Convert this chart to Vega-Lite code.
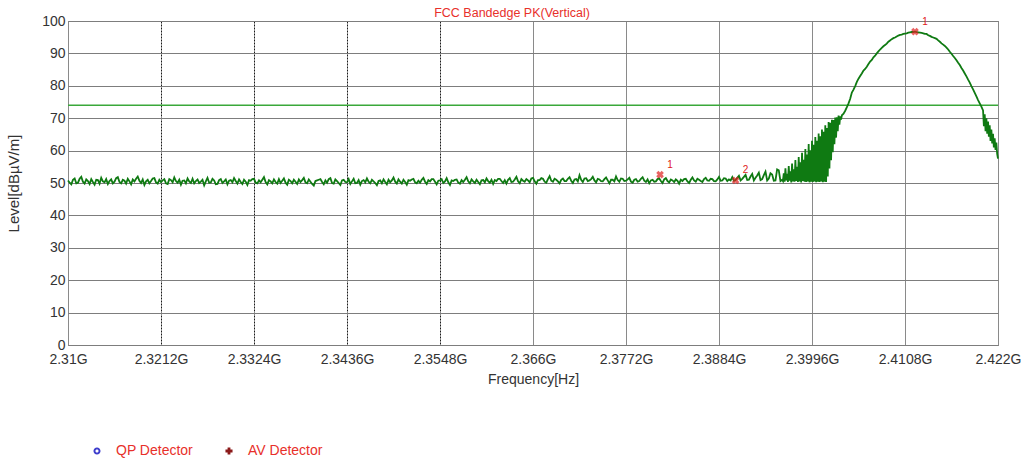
{
 "$schema": "https://vega.github.io/schema/vega-lite/v6.json",
 "width": 930,
 "height": 324,
 "autosize": {"type": "none"},
 "padding": {"left": 68, "top": 21, "right": 24, "bottom": 118},
 "background": "white",
 "config": {
  "view": {"stroke": "#6e6e6e", "strokeWidth": 1},
  "font": "Liberation Sans, Arial, sans-serif"
 },
 "title": {"text": "FCC Bandedge PK(Vertical)", "color": "#e8302a", "fontSize": 12.5, "fontWeight": "normal", "frame": "group", "offset": -5, "dx": -21},
 "datasets": {
  "trace": [
   {"f":2.31,"v":50.8},{"f":2.3102,"v":50.1},{"f":2.3104,"v":49.6},{"f":2.3106,"v":51.0},{"f":2.3108,"v":51.4},{"f":2.311,"v":49.9},{"f":2.3112,"v":50.1},{"f":2.3114,"v":51.3},{"f":2.3116,"v":51.9},{"f":2.3118,"v":50.4},{"f":2.312,"v":49.8},{"f":2.3122,"v":51.1},{"f":2.3124,"v":50.6},{"f":2.3126,"v":49.7},{"f":2.3128,"v":51.2},{"f":2.313,"v":50.3},{"f":2.3132,"v":49.5},{"f":2.3134,"v":51.0},{"f":2.3136,"v":50.9},{"f":2.3138,"v":49.8},
   {"f":2.314,"v":51.6},{"f":2.3142,"v":50.5},{"f":2.3144,"v":50.2},{"f":2.3146,"v":51.2},{"f":2.3148,"v":49.7},{"f":2.315,"v":50.6},{"f":2.3152,"v":51.1},{"f":2.3154,"v":49.9},{"f":2.3156,"v":50.4},{"f":2.3158,"v":51.5},{"f":2.316,"v":51.8},{"f":2.3162,"v":50.3},{"f":2.3164,"v":49.9},{"f":2.3166,"v":51.0},{"f":2.3168,"v":50.7},{"f":2.317,"v":49.8},{"f":2.3172,"v":51.3},{"f":2.3174,"v":50.5},{"f":2.3176,"v":49.6},{"f":2.3178,"v":51.1},
   {"f":2.318,"v":50.5},{"f":2.3182,"v":51.3},{"f":2.3184,"v":52.0},{"f":2.3186,"v":50.7},{"f":2.3188,"v":50.0},{"f":2.319,"v":51.1},{"f":2.3192,"v":49.4},{"f":2.3194,"v":50.5},{"f":2.3196,"v":51.0},{"f":2.3198,"v":49.9},{"f":2.32,"v":50.6},{"f":2.3202,"v":51.4},{"f":2.3204,"v":51.5},{"f":2.3206,"v":50.2},{"f":2.3208,"v":49.8},{"f":2.321,"v":51.0},{"f":2.3212,"v":50.3},{"f":2.3214,"v":50.8},{"f":2.3216,"v":51.2},{"f":2.3218,"v":49.9},
   {"f":2.322,"v":49.7},{"f":2.3222,"v":51.2},{"f":2.3224,"v":50.9},{"f":2.3226,"v":50.2},{"f":2.3228,"v":51.7},{"f":2.323,"v":50.6},{"f":2.3232,"v":50.1},{"f":2.3234,"v":51.0},{"f":2.3236,"v":49.5},{"f":2.3238,"v":50.7},{"f":2.324,"v":50.8},{"f":2.3242,"v":49.9},{"f":2.3244,"v":51.4},{"f":2.3246,"v":50.5},{"f":2.3248,"v":50.0},{"f":2.325,"v":51.3},{"f":2.3252,"v":49.9},{"f":2.3254,"v":50.6},{"f":2.3256,"v":51.1},{"f":2.3258,"v":50.0},
   {"f":2.326,"v":50.4},{"f":2.3262,"v":51.0},{"f":2.3264,"v":49.3},{"f":2.3266,"v":50.5},{"f":2.3268,"v":51.6},{"f":2.327,"v":50.1},{"f":2.3272,"v":50.2},{"f":2.3274,"v":51.3},{"f":2.3276,"v":50.8},{"f":2.3278,"v":49.6},{"f":2.328,"v":49.7},{"f":2.3282,"v":50.9},{"f":2.3284,"v":51.2},{"f":2.3286,"v":50.0},{"f":2.3288,"v":50.5},{"f":2.329,"v":51.1},{"f":2.3292,"v":49.6},{"f":2.3294,"v":50.7},{"f":2.3296,"v":50.9},{"f":2.3298,"v":50.2},
   {"f":2.33,"v":51.5},{"f":2.3302,"v":50.6},{"f":2.3304,"v":49.8},{"f":2.3306,"v":51.1},{"f":2.3308,"v":50.3},{"f":2.331,"v":49.7},{"f":2.3312,"v":51.0},{"f":2.3314,"v":50.4},{"f":2.3316,"v":49.4},{"f":2.3318,"v":50.9},{"f":2.332,"v":50.7},{"f":2.3322,"v":51.2},{"f":2.3324,"v":51.3},{"f":2.3326,"v":50.1},{"f":2.3328,"v":49.9},{"f":2.333,"v":50.8},{"f":2.3332,"v":50.2},{"f":2.3334,"v":51.0},{"f":2.3336,"v":51.8},{"f":2.3338,"v":50.3},
   {"f":2.334,"v":49.6},{"f":2.3342,"v":50.9},{"f":2.3344,"v":50.5},{"f":2.3346,"v":49.9},{"f":2.3348,"v":51.1},{"f":2.335,"v":50.3},{"f":2.3352,"v":49.8},{"f":2.3354,"v":51.2},{"f":2.3356,"v":50.0},{"f":2.3358,"v":50.7},{"f":2.336,"v":51.4},{"f":2.3362,"v":50.1},{"f":2.3364,"v":49.5},{"f":2.3366,"v":51.0},{"f":2.3368,"v":50.6},{"f":2.337,"v":49.9},{"f":2.3372,"v":51.0},{"f":2.3374,"v":50.4},{"f":2.3376,"v":49.7},{"f":2.3378,"v":51.1},
   {"f":2.338,"v":50.3},{"f":2.3382,"v":50.9},{"f":2.3384,"v":51.6},{"f":2.3386,"v":50.2},{"f":2.3388,"v":49.9},{"f":2.339,"v":51.1},{"f":2.3392,"v":50.4},{"f":2.3394,"v":49.7},{"f":2.3396,"v":49.2},{"f":2.3398,"v":50.6},{"f":2.34,"v":50.8},{"f":2.3402,"v":51.0},{"f":2.3404,"v":51.2},{"f":2.3406,"v":50.3},{"f":2.3408,"v":49.6},{"f":2.341,"v":50.8},{"f":2.3412,"v":50.1},{"f":2.3414,"v":51.2},{"f":2.3416,"v":51.5},{"f":2.3418,"v":50.0},
   {"f":2.342,"v":49.8},{"f":2.3422,"v":51.1},{"f":2.3424,"v":50.6},{"f":2.3426,"v":50.0},{"f":2.3428,"v":49.4},{"f":2.343,"v":50.8},{"f":2.3432,"v":51.0},{"f":2.3434,"v":50.3},{"f":2.3436,"v":50.2},{"f":2.3438,"v":51.2},{"f":2.344,"v":49.7},{"f":2.3442,"v":50.5},{"f":2.3444,"v":51.3},{"f":2.3446,"v":49.9},{"f":2.3448,"v":50.0},{"f":2.345,"v":50.9},{"f":2.3452,"v":49.5},{"f":2.3454,"v":50.6},{"f":2.3456,"v":50.9},{"f":2.3458,"v":50.2},
   {"f":2.346,"v":51.4},{"f":2.3462,"v":50.4},{"f":2.3464,"v":49.9},{"f":2.3466,"v":51.0},{"f":2.3468,"v":50.5},{"f":2.347,"v":50.0},{"f":2.3472,"v":49.3},{"f":2.3474,"v":50.6},{"f":2.3476,"v":50.8},{"f":2.3478,"v":49.9},{"f":2.348,"v":51.1},{"f":2.3482,"v":50.3},{"f":2.3484,"v":49.6},{"f":2.3486,"v":51.0},{"f":2.3488,"v":50.2},{"f":2.349,"v":50.8},{"f":2.3492,"v":51.7},{"f":2.3494,"v":50.4},{"f":2.3496,"v":49.8},{"f":2.3498,"v":51.1},
   {"f":2.35,"v":50.4},{"f":2.3502,"v":49.8},{"f":2.3504,"v":51.0},{"f":2.3506,"v":50.3},{"f":2.3508,"v":49.5},{"f":2.351,"v":50.9},{"f":2.3512,"v":50.7},{"f":2.3514,"v":51.1},{"f":2.3516,"v":51.3},{"f":2.3518,"v":50.2},{"f":2.352,"v":49.9},{"f":2.3522,"v":50.7},{"f":2.3524,"v":50.1},{"f":2.3526,"v":51.0},{"f":2.3528,"v":51.6},{"f":2.353,"v":50.4},{"f":2.3532,"v":49.7},{"f":2.3534,"v":50.9},{"f":2.3536,"v":50.5},{"f":2.3538,"v":51.2},
   {"f":2.354,"v":51.2},{"f":2.3542,"v":50.4},{"f":2.3544,"v":49.6},{"f":2.3546,"v":50.7},{"f":2.3548,"v":50.8},{"f":2.355,"v":51.2},{"f":2.3552,"v":50.0},{"f":2.3554,"v":50.5},{"f":2.3556,"v":51.5},{"f":2.3558,"v":50.2},{"f":2.356,"v":49.4},{"f":2.3562,"v":50.8},{"f":2.3564,"v":50.6},{"f":2.3566,"v":51.0},{"f":2.3568,"v":51.1},{"f":2.357,"v":50.1},{"f":2.3572,"v":49.8},{"f":2.3574,"v":50.9},{"f":2.3576,"v":50.3},{"f":2.3578,"v":51.0},
   {"f":2.358,"v":51.8},{"f":2.3582,"v":50.5},{"f":2.3584,"v":49.9},{"f":2.3586,"v":51.1},{"f":2.3588,"v":50.5},{"f":2.359,"v":50.0},{"f":2.3592,"v":51.0},{"f":2.3594,"v":50.3},{"f":2.3596,"v":49.6},{"f":2.3598,"v":50.8},{"f":2.36,"v":50.9},{"f":2.3602,"v":50.2},{"f":2.3604,"v":51.4},{"f":2.3606,"v":50.6},{"f":2.3608,"v":50.1},{"f":2.361,"v":51.0},{"f":2.3612,"v":49.7},{"f":2.3614,"v":50.9},{"f":2.3616,"v":50.6},{"f":2.3618,"v":51.3},
   {"f":2.362,"v":51.3},{"f":2.3622,"v":50.6},{"f":2.3624,"v":50.0},{"f":2.3626,"v":50.9},{"f":2.3628,"v":49.8},{"f":2.363,"v":51.0},{"f":2.3632,"v":51.5},{"f":2.3634,"v":50.3},{"f":2.3636,"v":50.4},{"f":2.3638,"v":51.1},{"f":2.364,"v":51.9},{"f":2.3642,"v":50.5},{"f":2.3644,"v":49.9},{"f":2.3646,"v":51.2},{"f":2.3648,"v":50.7},{"f":2.365,"v":50.4},{"f":2.3652,"v":51.2},{"f":2.3654,"v":50.8},{"f":2.3656,"v":50.2},{"f":2.3658,"v":51.4},
   {"f":2.366,"v":51.6},{"f":2.3662,"v":50.5},{"f":2.3664,"v":49.8},{"f":2.3666,"v":50.9},{"f":2.3668,"v":50.9},{"f":2.367,"v":51.5},{"f":2.3672,"v":51.3},{"f":2.3674,"v":50.4},{"f":2.3676,"v":50.1},{"f":2.3678,"v":51.2},{"f":2.368,"v":52.1},{"f":2.3682,"v":50.7},{"f":2.3684,"v":50.4},{"f":2.3686,"v":51.3},{"f":2.3688,"v":51.0},{"f":2.369,"v":50.5},{"f":2.3692,"v":49.9},{"f":2.3694,"v":51.0},{"f":2.3696,"v":51.4},{"f":2.3698,"v":50.6},
   {"f":2.37,"v":50.6},{"f":2.3702,"v":51.3},{"f":2.3704,"v":51.8},{"f":2.3706,"v":50.7},{"f":2.3708,"v":50.0},{"f":2.371,"v":51.1},{"f":2.3712,"v":51.2},{"f":2.3714,"v":50.5},{"f":2.3716,"v":52.4},{"f":2.3718,"v":51.0},{"f":2.372,"v":50.3},{"f":2.3722,"v":51.4},{"f":2.3724,"v":51.5},{"f":2.3726,"v":50.6},{"f":2.3728,"v":50.8},{"f":2.373,"v":51.2},{"f":2.3732,"v":51.9},{"f":2.3734,"v":50.8},{"f":2.3736,"v":50.2},{"f":2.3738,"v":51.3},
   {"f":2.374,"v":51.1},{"f":2.3742,"v":50.6},{"f":2.3744,"v":50.5},{"f":2.3746,"v":51.2},{"f":2.3748,"v":51.7},{"f":2.375,"v":50.8},{"f":2.3752,"v":49.9},{"f":2.3754,"v":51.0},{"f":2.3756,"v":51.0},{"f":2.3758,"v":50.5},{"f":2.376,"v":52.0},{"f":2.3762,"v":50.9},{"f":2.3764,"v":50.4},{"f":2.3766,"v":51.4},{"f":2.3768,"v":51.3},{"f":2.377,"v":50.6},{"f":2.3772,"v":50.7},{"f":2.3774,"v":51.1},{"f":2.3776,"v":51.6},{"f":2.3778,"v":50.4},
   {"f":2.378,"v":50.1},{"f":2.3782,"v":51.0},{"f":2.3784,"v":51.2},{"f":2.3786,"v":50.4},{"f":2.3788,"v":50.6},{"f":2.379,"v":51.3},{"f":2.3792,"v":51.8},{"f":2.3794,"v":50.7},{"f":2.3796,"v":50.3},{"f":2.3798,"v":51.1},{"f":2.38,"v":49.9},{"f":2.3802,"v":50.8},{"f":2.3804,"v":51.0},{"f":2.3806,"v":50.4},{"f":2.3808,"v":50.5},{"f":2.381,"v":51.2},{"f":2.3812,"v":51.4},{"f":2.3814,"v":50.6},{"f":2.3816,"v":50.0},{"f":2.3818,"v":51.1},
   {"f":2.382,"v":51.5},{"f":2.3822,"v":50.6},{"f":2.3824,"v":50.2},{"f":2.3826,"v":51.1},{"f":2.3828,"v":50.8},{"f":2.383,"v":50.3},{"f":2.3832,"v":51.1},{"f":2.3834,"v":50.7},{"f":2.3836,"v":49.8},{"f":2.3838,"v":51.0},{"f":2.384,"v":50.6},{"f":2.3842,"v":51.2},{"f":2.3844,"v":51.3},{"f":2.3846,"v":50.5},{"f":2.3848,"v":50.0},{"f":2.385,"v":51.0},{"f":2.3852,"v":51.7},{"f":2.3854,"v":50.8},{"f":2.3856,"v":50.4},{"f":2.3858,"v":51.3},
   {"f":2.386,"v":51.0},{"f":2.3862,"v":50.6},{"f":2.3864,"v":50.3},{"f":2.3866,"v":51.2},{"f":2.3868,"v":51.6},{"f":2.387,"v":50.8},{"f":2.3872,"v":50.7},{"f":2.3874,"v":51.3},{"f":2.3876,"v":51.2},{"f":2.3878,"v":50.6},{"f":2.388,"v":50.5},{"f":2.3882,"v":51.1},{"f":2.3884,"v":51.9},{"f":2.3886,"v":50.7},{"f":2.3888,"v":50.8},{"f":2.389,"v":51.5},{"f":2.3892,"v":51.4},{"f":2.3894,"v":50.6},{"f":2.3896,"v":51.1},{"f":2.3898,"v":50.8},
   {"f":2.39,"v":51.8},{"f":2.3902,"v":50.7},{"f":2.3904,"v":50.9},{"f":2.3906,"v":51.6},{"f":2.3908,"v":52.2},{"f":2.391,"v":50.8},{"f":2.3912,"v":51.3},{"f":2.3914,"v":51.9},{"f":2.3916,"v":52.5},{"f":2.3918,"v":50.9},{"f":2.392,"v":51.0},{"f":2.3922,"v":52.0},{"f":2.3924,"v":52.8},{"f":2.3926,"v":50.8},{"f":2.3928,"v":51.6},{"f":2.393,"v":52.3},{"f":2.3932,"v":53.2},{"f":2.3934,"v":50.9},{"f":2.3936,"v":51.2},{"f":2.3938,"v":52.4},
   {"f":2.394,"v":53.5},{"f":2.3942,"v":50.8},{"f":2.3944,"v":51.4},{"f":2.3946,"v":53.0},{"f":2.3948,"v":52.6},{"f":2.395,"v":50.7},{"f":2.3952,"v":50.8},{"f":2.3954,"v":54.2},{"f":2.3956,"v":53.9},{"f":2.3958,"v":50.6},{"f":2.396,"v":51.0},
   {"f":2.3961,"v":50.6},{"f":2.3962,"v":53.0},{"f":2.3963,"v":50.4},{"f":2.3964,"v":54.5},{"f":2.3965,"v":50.8},{"f":2.3966,"v":52.8},{"f":2.3967,"v":50.3},{"f":2.3968,"v":55.2},{"f":2.3969,"v":50.7},{"f":2.397,"v":53.6},
   {"f":2.3971,"v":50.2},{"f":2.3972,"v":56.0},{"f":2.3973,"v":50.5},{"f":2.3974,"v":54.2},{"f":2.3975,"v":50.4},{"f":2.3976,"v":57.1},{"f":2.3977,"v":50.6},{"f":2.3978,"v":55.0},{"f":2.3979,"v":50.3},{"f":2.398,"v":58.0},
   {"f":2.3981,"v":50.5},{"f":2.3982,"v":56.4},{"f":2.3983,"v":50.2},{"f":2.3984,"v":59.3},{"f":2.3985,"v":50.6},{"f":2.3986,"v":57.2},{"f":2.3987,"v":50.4},{"f":2.3988,"v":60.5},{"f":2.3989,"v":50.3},{"f":2.399,"v":58.8},
   {"f":2.3991,"v":50.5},{"f":2.3992,"v":62.0},{"f":2.3993,"v":50.2},{"f":2.3994,"v":60.1},{"f":2.3995,"v":50.4},{"f":2.3996,"v":63.0},{"f":2.3997,"v":50.3},{"f":2.3998,"v":61.8},{"f":2.3999,"v":50.5},{"f":2.4,"v":64.2},
   {"f":2.4001,"v":50.2},{"f":2.4002,"v":63.0},{"f":2.4003,"v":50.4},{"f":2.4004,"v":65.3},{"f":2.4005,"v":50.3},{"f":2.4006,"v":64.4},{"f":2.4007,"v":50.5},{"f":2.4008,"v":66.5},{"f":2.4009,"v":50.2},{"f":2.401,"v":65.8},
   {"f":2.4011,"v":50.4},{"f":2.4012,"v":67.8},{"f":2.4013,"v":50.3},{"f":2.4014,"v":67.0},{"f":2.4015,"v":52.0},{"f":2.4016,"v":68.8},{"f":2.4017,"v":54.5},{"f":2.4018,"v":68.6},{"f":2.4019,"v":57.0},{"f":2.402,"v":69.5},
   {"f":2.4021,"v":59.5},{"f":2.4022,"v":69.4},{"f":2.4023,"v":62.0},{"f":2.4024,"v":70.2},{"f":2.4025,"v":64.0},{"f":2.4026,"v":70.3},{"f":2.4027,"v":66.0},{"f":2.4028,"v":70.8},{"f":2.4029,"v":68.0},{"f":2.403,"v":70.6},
   {"f":2.4031,"v":69.6},{"f":2.4032,"v":70.9},
   {"f":2.4034,"v":71.4},{"f":2.4036,"v":72.3},{"f":2.4038,"v":73.4},{"f":2.404,"v":74.6},{"f":2.4042,"v":76.0},{"f":2.4044,"v":77.9},{"f":2.4046,"v":78.8},{"f":2.4048,"v":79.9},{"f":2.405,"v":81.2},{"f":2.4052,"v":82.2},
   {"f":2.4054,"v":83.0},{"f":2.4056,"v":83.8},{"f":2.4058,"v":84.7},{"f":2.406,"v":85.2},{"f":2.4062,"v":85.9},{"f":2.4064,"v":86.7},{"f":2.4066,"v":87.5},{"f":2.4068,"v":88.0},{"f":2.407,"v":88.8},{"f":2.4072,"v":89.3},
   {"f":2.4074,"v":90.0},{"f":2.4076,"v":90.6},{"f":2.4078,"v":91.2},{"f":2.408,"v":91.7},{"f":2.4082,"v":92.2},{"f":2.4084,"v":92.6},{"f":2.4086,"v":93.0},{"f":2.4088,"v":93.6},{"f":2.409,"v":94.0},{"f":2.4092,"v":94.4},
   {"f":2.4094,"v":94.7},{"f":2.4096,"v":94.9},{"f":2.4098,"v":95.2},{"f":2.41,"v":95.5},{"f":2.4102,"v":95.7},{"f":2.4104,"v":95.8},{"f":2.4106,"v":96.0},{"f":2.4108,"v":96.1},{"f":2.411,"v":96.2},{"f":2.4112,"v":96.4},
   {"f":2.4114,"v":96.5},{"f":2.4116,"v":96.6},{"f":2.4118,"v":96.6},{"f":2.412,"v":96.7},{"f":2.4122,"v":96.6},{"f":2.4124,"v":96.5},{"f":2.4126,"v":96.4},{"f":2.4128,"v":96.3},{"f":2.413,"v":96.2},{"f":2.4132,"v":96.0},
   {"f":2.4134,"v":96.0},{"f":2.4136,"v":95.6},{"f":2.4138,"v":95.4},{"f":2.414,"v":95.1},{"f":2.4142,"v":94.9},{"f":2.4144,"v":94.7},{"f":2.4146,"v":94.5},{"f":2.4148,"v":94.0},{"f":2.415,"v":93.6},{"f":2.4152,"v":93.1},
   {"f":2.4154,"v":92.7},{"f":2.4156,"v":92.3},{"f":2.4158,"v":91.8},{"f":2.416,"v":91.2},{"f":2.4162,"v":90.5},{"f":2.4164,"v":89.9},{"f":2.4166,"v":89.2},{"f":2.4168,"v":88.6},{"f":2.417,"v":87.9},{"f":2.4172,"v":87.1},
   {"f":2.4174,"v":86.4},{"f":2.4176,"v":85.5},{"f":2.4178,"v":84.7},{"f":2.418,"v":83.8},{"f":2.4182,"v":82.9},{"f":2.4184,"v":81.9},{"f":2.4186,"v":81.0},{"f":2.4188,"v":79.9},{"f":2.419,"v":78.9},{"f":2.4192,"v":77.8},
   {"f":2.4194,"v":76.7},{"f":2.4196,"v":75.6},{"f":2.4198,"v":74.6},{"f":2.42,"v":73.6},{"f":2.4202,"v":72.4},
   {"f":2.4203,"v":67.5},{"f":2.4204,"v":71.2},{"f":2.4205,"v":66.0},{"f":2.4206,"v":70.0},{"f":2.4207,"v":65.2},{"f":2.4208,"v":69.0},{"f":2.4209,"v":64.3},{"f":2.421,"v":67.8},{"f":2.4211,"v":63.0},{"f":2.4212,"v":66.5},
   {"f":2.4213,"v":62.2},{"f":2.4214,"v":65.2},{"f":2.4215,"v":61.0},{"f":2.4216,"v":63.8},{"f":2.4217,"v":60.2},{"f":2.4218,"v":62.5},{"f":2.4219,"v":59.0},{"f":2.422,"v":57.5}
  ],
  "markers": [
   {"f":2.3813,"v":52.6,"n":"1"},
   {"f":2.3904,"v":50.8,"n":"2"},
   {"f":2.412,"v":96.7,"n":"1"}
  ],
  "limit": [{"lim":74}],
  "legend": [{"d":"QP Detector"},{"d":"AV Detector"}]
 },
 "layer": [
  {
   "data": {"name": "limit"},
   "mark": {"type": "rule", "color": "#3aa83a", "strokeWidth": 1.5},
   "encoding": {
    "y": {
     "field": "lim", "type": "quantitative",
     "scale": {"domain": [0, 100], "nice": false},
     "axis": {
      "values": [0, 10, 20, 30, 40, 50, 60, 70, 80, 90, 100],
      "tickCount": 12,
      "title": "Level[dBµV/m]",
      "grid": true, "gridColor": "#7d7d7d",
      "domain": false, "ticks": false,
      "labelPadding": 3, "labelFontSize": 14, "labelColor": "#333333",
      "labelOverlap": false, "labelBound": false, "labelFlush": false,
      "titleFontSize": 15, "titleColor": "#333333", "titleFontWeight": "normal", "titlePadding": 20
     }
    }
   }
  },
  {
   "data": {"name": "trace"},
   "mark": {"type": "line", "color": "#0f7a12", "strokeWidth": 1.8},
   "encoding": {
    "x": {
     "field": "f", "type": "quantitative",
     "scale": {"domain": [2.31, 2.422], "nice": false, "zero": false},
     "axis": {
      "values": [2.31, 2.3212, 2.3324, 2.3436, 2.3548, 2.366, 2.3772, 2.3884, 2.3996, 2.4108, 2.422],
      "tickCount": 24,
      "labelExpr": "format(datum.value, '.5~f') + 'G'",
      "title": "Frequency[Hz]",
      "grid": true,
      "gridColor": {"condition": {"test": "datum.value > 2.315 && datum.value < 2.36", "value": "#1a1a1a"}, "value": "#8a8a8a"},
      "gridDash": {"condition": {"test": "datum.value > 2.315 && datum.value < 2.36", "value": [2, 1]}, "value": []},
      "domain": false, "ticks": false,
      "labelPadding": 7, "labelFontSize": 14, "labelColor": "#333333",
      "labelFlush": false, "labelOverlap": false, "labelBound": false,
      "titleFontSize": 14, "titleColor": "#333333", "titleFontWeight": "normal", "titlePadding": 6
     }
    },
    "y": {
     "field": "v", "type": "quantitative",
     "scale": {"domain": [0, 100], "nice": false},
     "axis": {
      "values": [0, 10, 20, 30, 40, 50, 60, 70, 80, 90, 100],
      "tickCount": 12,
      "title": "Level[dBµV/m]",
      "grid": true, "gridColor": "#7d7d7d",
      "domain": false, "ticks": false,
      "labelPadding": 3, "labelFontSize": 14, "labelColor": "#333333",
      "labelOverlap": false, "labelBound": false, "labelFlush": false,
      "titleFontSize": 15, "titleColor": "#333333", "titleFontWeight": "normal", "titlePadding": 20
     }
    }
   }
  },
  {
   "data": {"name": "markers"},
   "mark": {"type": "point", "shape": "cross", "angle": 45, "filled": true, "color": "#e02020", "size": 60},
   "encoding": {
    "x": {"field": "f", "type": "quantitative"},
    "y": {"field": "v", "type": "quantitative"}
   }
  },
  {
   "data": {"name": "markers"},
   "mark": {"type": "text", "color": "#e02020", "fontSize": 10, "dx": 10, "dy": -10},
   "encoding": {
    "x": {"field": "f", "type": "quantitative"},
    "y": {"field": "v", "type": "quantitative"},
    "text": {"field": "n"}
   }
  },
  {
   "data": {"name": "legend"},
   "mark": {"type": "point", "filled": true, "opacity": 0},
   "encoding": {
    "color": {
     "field": "d", "type": "nominal",
     "scale": {"domain": ["QP Detector", "AV Detector"], "range": ["#3d3dcc", "#8b1a1a"]},
     "legend": {"orient": "none", "legendX": 22, "legendY": 423, "direction": "horizontal", "title": null,
      "labelColor": "#e8302a", "labelFontSize": 14, "labelOffset": 12, "columnPadding": 28, "symbolSize": 50, "symbolOpacity": 1}
    },
    "shape": {
     "field": "d", "type": "nominal",
     "scale": {"domain": ["QP Detector", "AV Detector"], "range": ["M-1,0A1,1 0 1,0 1,0A1,1 0 1,0 -1,0ZM-0.45,0A0.45,0.45 0 1,1 0.45,0A0.45,0.45 0 1,1 -0.45,0Z", "cross"]},
     "legend": {"orient": "none", "legendX": 22, "legendY": 423, "direction": "horizontal", "title": null,
      "labelColor": "#e8302a", "labelFontSize": 14, "labelOffset": 12, "columnPadding": 28, "symbolSize": 50, "symbolOpacity": 1}
    }
   }
  }
 ]
}
